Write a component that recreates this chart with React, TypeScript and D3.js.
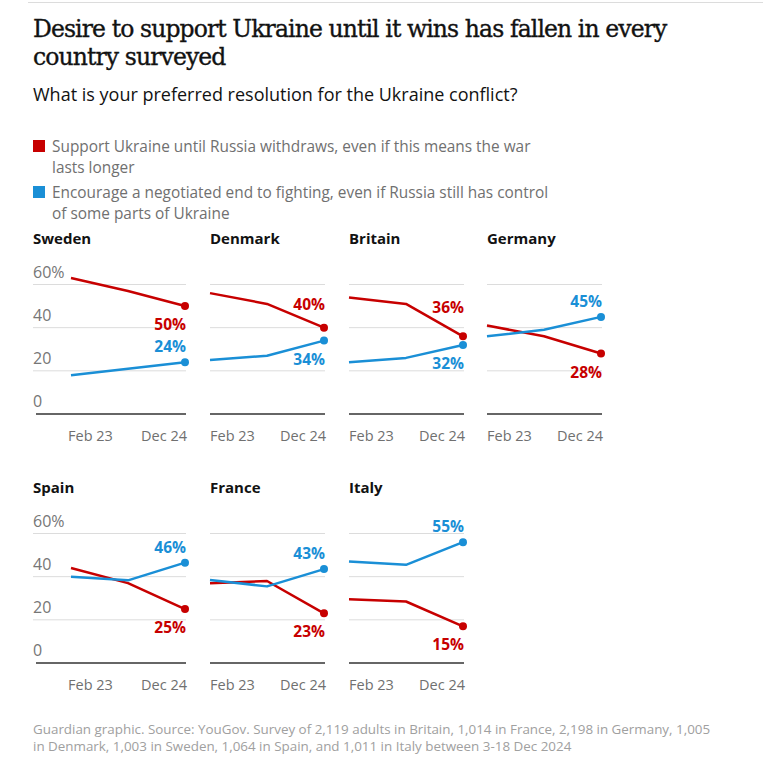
import React from "react";
import * as d3 from "d3";

// ---------- data ----------
const countries = ["Sweden", "Denmark", "Britain", "Germany", "Spain", "France", "Italy"];
const periods = [0, 1, 2]; // Feb 23, interim survey, Dec 24
const tickLabels = ["Feb 23", "Dec 24"];
const supportUntilWithdraw = [
  [63, 57, 50],
  [56, 51, 40],
  [54, 51, 36],
  [41, 36, 28],
  [44, 37, 25],
  [37, 38, 23],
  [29.5, 28.5, 17],
];
const negotiatedEnd = [
  [18, 21, 24],
  [25, 27, 34],
  [24, 26, 32],
  [36, 39, 45],
  [40, 38.3, 46.5],
  [38.5, 35.5, 43.5],
  [47, 45.5, 56],
];
const supportEndLabels = ["50%", "40%", "36%", "28%", "25%", "23%", "15%"];
const negotiatedEndLabels = ["24%", "34%", "32%", "45%", "46%", "43%", "55%"];
const yTicks = [0, 20, 40, 60];
const yTickLabels = ["0", "20", "40", "60%"];
const insideLabelCountries = ["Sweden"];
const legendItems = [
  ["Support Ukraine until Russia withdraws, even if this means the war", "lasts longer"],
  ["Encourage a negotiated end to fighting, even if Russia still has control", "of some parts of Ukraine"],
];

// ---------- style ----------
const RED = "#c70000";
const BLUE = "#1a8fd6";
const SANS = "'Open Sans', 'Noto Sans', sans-serif";
const SERIF = "'DejaVu Serif', 'Liberation Serif', serif";

const W = 763;
const H = 766;
const rowBase = [414, 663];
const colX0 = [71, 210, 349, 487];
const plotW = 114;
const axisLeft = 33;

function Panel({ idx }: { idx: number }) {
  const row = Math.floor(idx / 4);
  const col = idx % 4;
  const base = rowBase[row];
  const x0 = colX0[col];
  const x = d3.scaleLinear().domain([0, 2]).range([x0, x0 + plotW]);
  const y = d3.scaleLinear().domain([0, 60]).range([base, base - 129.5]);
  const line = d3
    .line<number>()
    .x((_, i) => x(periods[i]))
    .y((d) => y(d));
  const gridLeft = col === 0 ? axisLeft : x0;
  const red = supportUntilWithdraw[idx];
  const blue = negotiatedEnd[idx];
  const redEnd = red[2];
  const blueEnd = blue[2];
  const inside = insideLabelCountries.includes(countries[idx]);
  const redUpper = redEnd > blueEnd;
  const xEnd = x(2);

  const lineYAt = (vals: number[], px: number) => {
    const t = (px - x(1)) / (x(2) - x(1));
    return y(vals[1]) + (y(vals[2]) - y(vals[1])) * t;
  };
  const labelY = (vals: number[], above: boolean) => {
    const pt = y(vals[2]);
    if (above) return Math.min(pt - 10, lineYAt(vals, xEnd - 36) - 3);
    return pt + 24;
  };
  const redAbove = inside ? !redUpper : redUpper;
  const blueAbove = !redAbove;

  return (
    <g>
      <text x={col === 0 ? axisLeft : x0} y={base - 170} fontFamily={SANS} fontWeight={700} fontSize={15} fill="#121212">
        {countries[idx]}
      </text>
      {yTicks.map((t) =>
        t === 0 ? null : (
          <line key={t} x1={gridLeft} x2={x0 + plotW + 1} y1={y(t)} y2={y(t)} stroke="#dcdcdc" strokeWidth={1} />
        )
      )}
      {col === 0 &&
        yTicks.map((t, i) => (
          <text key={"l" + t} x={axisLeft} y={y(t) - 7} fontFamily={SANS} fontSize={16} fill="#767676">
            {yTickLabels[i]}
          </text>
        ))}
      <line x1={col === 0 ? axisLeft + 3 : x0} x2={x0 + plotW + 1} y1={base} y2={base} stroke="#333" strokeWidth={1.3} />
      <text x={col === 0 ? x0 - 3 : x0} y={base + 27} fontFamily={SANS} fontSize={14.5} fill="#707070">
        {tickLabels[0]}
      </text>
      <text x={xEnd + 2} y={base + 27} textAnchor="end" fontFamily={SANS} fontSize={14.5} fill="#707070">
        {tickLabels[1]}
      </text>
      <path d={line(red) || ""} fill="none" stroke={RED} strokeWidth={2.5} strokeLinejoin="round" />
      <path d={line(blue) || ""} fill="none" stroke={BLUE} strokeWidth={2.5} strokeLinejoin="round" />
      <circle cx={xEnd} cy={y(redEnd)} r={4} fill={RED} />
      <circle cx={xEnd} cy={y(blueEnd)} r={4} fill={BLUE} />
      <text x={xEnd + 1} y={labelY(red, redAbove)} textAnchor="end" fontFamily={SANS} fontWeight={700} fontSize={15.5} fill={RED}>
        {supportEndLabels[idx]}
      </text>
      <text x={xEnd + 1} y={labelY(blue, blueAbove)} textAnchor="end" fontFamily={SANS} fontWeight={700} fontSize={15.5} fill={BLUE}>
        {negotiatedEndLabels[idx]}
      </text>
    </g>
  );
}

export default function App() {
  return (
    <svg width={W} height={H} style={{ position: "absolute", left: 0, top: 0, background: "#fff" }}>
      <rect width={W} height={H} fill="#fff" />
      <line x1={28} x2={W} y1={2.5} y2={2.5} stroke="#dcdcdc" strokeWidth={1} />
      <text x={33} y={37} fontFamily={SERIF} fontSize={23.5} fill="#121212" stroke="#121212" strokeWidth={0.35} letterSpacing={-0.9}>
        Desire to support Ukraine until it wins has fallen in every
      </text>
      <text x={33} y={65} fontFamily={SERIF} fontSize={23.5} fill="#121212" stroke="#121212" strokeWidth={0.35} letterSpacing={-0.9}>
        country surveyed
      </text>
      <text x={33} y={101} fontFamily={SANS} fontSize={18} fill="#121212">
        What is your preferred resolution for the Ukraine conflict?
      </text>
      {legendItems.map((lines, i) => (
        <g key={i}>
          <rect x={33} y={140 + i * 46} width={12} height={12} fill={i === 0 ? RED : BLUE} />
          {lines.map((l, j) => (
            <text key={j} x={52} y={152 + i * 46 + j * 21} fontFamily={SANS} fontSize={15.4} fill="#707070">
              {l}
            </text>
          ))}
        </g>
      ))}
      {countries.map((_, i) => (
        <Panel key={i} idx={i} />
      ))}
      <text x={33} y={734} fontFamily={SANS} fontSize={13.4} fill="#a0a0a0">
        Guardian graphic. Source: YouGov. Survey of 2,119 adults in Britain, 1,014 in France, 2,198 in Germany, 1,005
      </text>
      <text x={33} y={751} fontFamily={SANS} fontSize={13.4} fill="#a0a0a0">
        in Denmark, 1,003 in Sweden, 1,064 in Spain, and 1,011 in Italy between 3-18 Dec 2024
      </text>
    </svg>
  );
}
